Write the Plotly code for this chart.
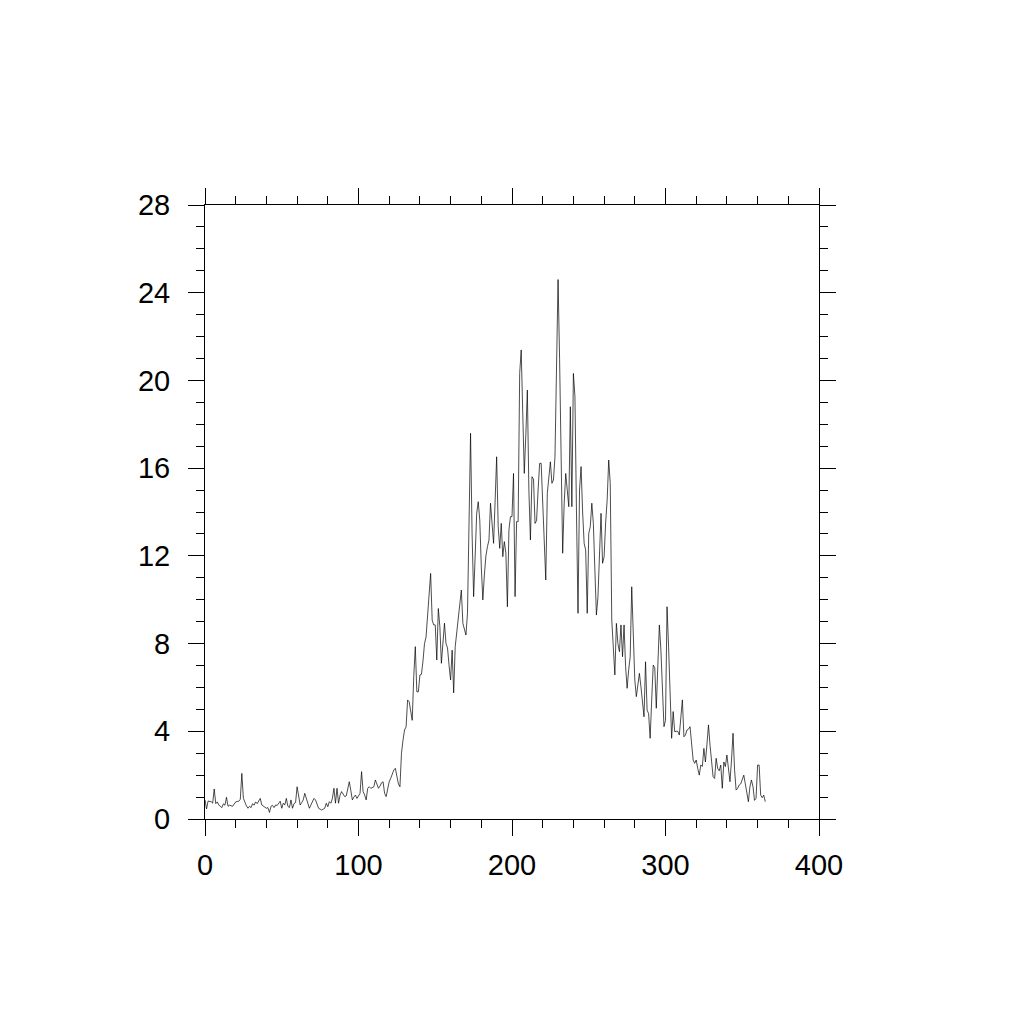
import plotly.graph_objects as go

days = list(range(366))
values = [
    0.87, 0.46, 0.82, 0.80, 0.79, 0.72, 1.37, 0.70, 0.78, 0.64,
    0.58, 0.52, 0.69, 0.63, 0.99, 0.58, 0.63, 0.60, 0.58, 0.68,
    0.78, 0.80, 0.81, 0.90, 2.08, 0.94, 0.72, 0.60, 0.49, 0.58,
    0.52, 0.70, 0.63, 0.78, 0.70, 0.82, 0.94, 0.64, 0.58, 0.55,
    0.49, 0.52, 0.30, 0.58, 0.62, 0.52, 0.64, 0.62, 0.75, 0.81,
    0.49, 0.72, 0.64, 0.94, 0.58, 0.52, 0.87, 0.49, 0.70, 0.75,
    1.47, 0.94, 0.64, 0.75, 0.87, 1.17, 0.94, 0.70, 0.49, 0.64,
    0.80, 0.94, 0.87, 0.64, 0.49, 0.45, 0.41, 0.45, 0.49, 0.72,
    0.56, 0.79, 0.72, 0.94, 1.40, 0.72, 1.40, 0.72, 1.09, 1.25,
    1.10, 1.02, 1.05, 1.47, 1.70, 1.30, 0.87, 1.00, 1.09, 0.94,
    1.05, 1.17, 2.16, 1.25, 1.10, 0.87, 1.40, 1.47, 1.40, 1.45,
    1.47, 1.78, 1.62, 1.40, 1.50, 1.65, 1.70, 1.17, 1.02, 1.40,
    1.70, 1.86, 2.05, 2.23, 2.31, 1.86, 1.60, 1.47, 3.00, 3.60,
    4.06, 4.20, 5.43, 5.35, 4.80, 4.50, 6.50, 7.86, 5.80, 5.80,
    6.57, 6.60, 7.20, 8.00, 8.30, 9.40, 10.30, 11.20, 9.07, 8.85,
    8.85, 7.25, 9.60, 8.77, 7.10, 8.00, 8.93, 8.00, 7.80, 7.00,
    6.34, 7.70, 5.75, 7.86, 8.47, 9.00, 9.53, 10.44, 8.92, 8.60,
    8.39, 9.38, 13.00, 17.59, 13.00, 10.14, 12.00, 13.94, 14.47, 13.63,
    11.50, 9.99, 11.13, 12.00, 12.42, 12.72, 14.40, 13.33, 12.57, 14.50,
    16.52, 13.33, 12.34, 13.48, 11.96, 12.65, 12.12, 9.68, 13.18, 13.79,
    13.79, 15.76, 10.14, 13.56, 13.56, 20.32, 21.39, 18.50, 15.76, 17.50,
    19.56, 15.00, 12.72, 15.61, 15.50, 13.48, 13.60, 15.00, 16.22, 16.22,
    14.40, 12.50, 10.90, 14.85, 15.50, 16.29, 15.31, 15.46, 16.52, 20.00,
    24.60, 21.00, 16.00, 12.12, 14.40, 15.76, 15.00, 14.24, 18.80, 14.24,
    20.32, 19.26, 14.00, 9.38, 15.00, 16.07, 14.00, 12.57, 12.26, 9.38,
    13.03, 13.33, 14.40, 13.48, 11.35, 9.30, 10.14, 12.00, 13.94, 11.66,
    11.96, 13.50, 14.55, 16.37, 15.31, 9.07, 8.00, 6.57, 8.92, 8.00,
    7.63, 8.85, 7.40, 8.85, 6.95, 5.96, 6.80, 7.40, 10.59, 8.62,
    6.34, 5.58, 6.03, 6.64, 6.03, 5.30, 4.66, 7.17, 4.97, 4.80,
    3.68, 5.43, 7.02, 6.90, 5.05, 7.00, 8.85, 7.70, 6.00, 4.21,
    4.50, 9.68, 7.86, 6.03, 3.68, 4.90, 3.98, 4.00, 4.00, 3.83,
    4.50, 5.43, 3.75, 3.83, 4.06, 4.10, 4.21, 3.40, 2.69, 2.54,
    2.69, 2.30, 2.00, 2.46, 2.40, 3.22, 2.60, 3.40, 4.29, 3.37,
    2.60, 1.93, 1.85, 2.77, 2.30, 2.20, 2.46, 1.40, 2.60, 2.39,
    2.92, 2.30, 1.70, 2.69, 3.91, 2.24, 1.32, 1.40, 1.55, 1.60,
    1.80, 2.00, 1.60, 1.25, 0.79, 1.47, 1.78, 1.47, 0.85, 0.94,
    2.46, 2.46, 1.09, 0.97, 1.09, 0.79,
]

x_ticks = [0, 100, 200, 300, 400]
y_ticks = [0, 4, 8, 12, 16, 20, 24, 28]

fig = go.Figure(go.Scatter(x=days, y=values, mode="lines",
                           line=dict(color="black", width=0.7),
                           hoverinfo="skip"))

axis_common = dict(
    showline=True, linecolor="black", linewidth=1, mirror="allticks",
    ticks="outside", ticklen=16, tickwidth=1, tickcolor="black",
    showgrid=False, zeroline=False,
    tickfont=dict(family="Liberation Sans, Arial, sans-serif", size=29, color="black"),
)

fig.update_xaxes(range=[0, 400], tickvals=x_ticks, ticktext=[str(v) for v in x_ticks],
                 ticklabelstandoff=4,
                 minor=dict(ticks="outside", ticklen=8, tickwidth=1, tickcolor="black", dtick=20, tick0=0),
                 **axis_common)
fig.update_yaxes(range=[0, 28], tickvals=y_ticks, ticktext=[str(v) for v in y_ticks],
                 ticklabelstandoff=12,
                 minor=dict(ticks="outside", ticklen=8, tickwidth=1, tickcolor="black", dtick=1, tick0=0),
                 **axis_common)

fig.update_layout(width=1024, height=1024,
                  margin=dict(l=197, r=213, t=197, b=213),
                  plot_bgcolor="white", paper_bgcolor="white",
                  showlegend=False)

fig.write_html("out.html")
